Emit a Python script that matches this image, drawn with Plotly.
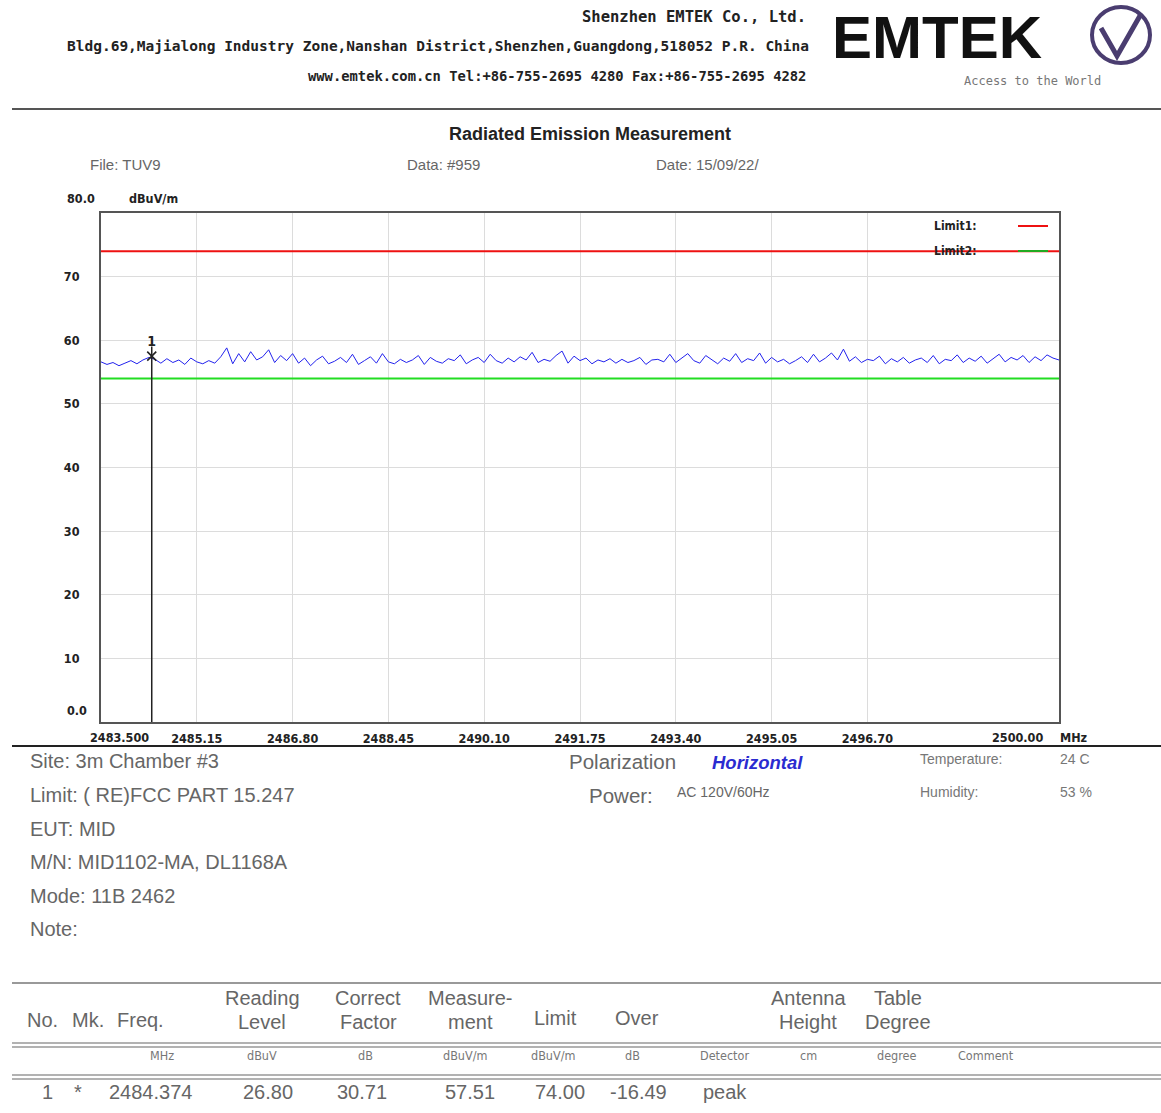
import plotly.graph_objects as go

# ---------------- data ----------------
f_start, f_stop = 2483.5, 2500.0
level = [
    56.6, 56.2, 56.5, 56.0, 56.4, 56.8, 56.3, 56.9, 57.3, 57.0, 56.4, 57.1, 56.5, 56.9, 56.2, 57.2, 56.6, 56.3, 56.8, 56.4,
    57.4, 58.8, 56.3, 57.9, 56.6, 58.2, 56.9, 57.4, 58.5, 56.5, 57.6, 56.8, 57.9, 56.4, 57.2, 56.0, 56.9, 57.5, 56.3, 56.7,
    57.3, 56.5, 57.8, 56.2, 56.8, 57.4, 56.4, 57.9, 56.6, 56.3, 57.0, 56.5, 56.9, 57.6, 56.2, 57.3, 56.7, 56.4, 57.1, 56.8,
    57.7, 56.3, 56.9, 57.3, 56.5, 57.8, 56.8, 56.4, 57.2, 56.6, 57.4, 56.9, 58.1, 56.5, 57.0, 56.7, 57.6, 58.3, 56.4, 57.5,
    56.8, 57.2, 56.3, 56.9, 56.6, 57.1, 56.4, 57.0, 56.5, 56.8, 57.3, 56.2, 56.9, 57.0, 56.6, 57.8, 56.5, 57.2, 57.9, 56.8,
    56.4, 57.6, 56.9, 56.3, 57.2, 56.7, 57.9, 56.5, 57.1, 56.8, 58.0, 56.4, 57.3, 56.6, 57.0, 56.3, 56.8, 57.4, 56.5, 57.8,
    56.6, 57.2, 58.0, 56.9, 58.6, 56.7, 57.4, 56.5, 57.0, 56.8, 57.5, 56.3, 57.1, 56.6, 57.3, 56.4, 56.9, 57.2, 56.5, 57.6,
    56.3, 57.0, 56.8, 57.7, 56.5, 57.2, 56.7, 57.5, 56.4, 57.1, 57.8, 56.6, 57.3, 56.9, 57.6, 56.5, 57.4, 56.8, 57.7, 57.2, 56.9,
]
limit1 = 74.0
limit2 = 54.0
marker_freq = 2484.374
marker_level = 57.51
x_tickvals = [2485.15, 2486.80, 2488.45, 2490.10, 2491.75, 2493.40, 2495.05, 2496.70]
x_ticktext = ["2485.15", "2486.80", "2488.45", "2490.10", "2491.75", "2493.40", "2495.05", "2496.70"]
y_tickvals = [10, 20, 30, 40, 50, 60, 70]
y_ticktext = ["10", "20", "30", "40", "50", "60", "70"]

n = len(level)
freqs = [f_start + i * (f_stop - f_start) / (n - 1) for i in range(n)]

# ---------------- geometry ----------------
W, H = 1161, 1113
L, R, T, B = 101, 1059, 213, 722


def px(x):
    return (x - L) / (R - L)


def py(y):
    return (B - y) / (B - T)


NARROW = "Liberation Sans Narrow, Arial Narrow, DejaVu Sans Condensed, sans-serif"
SANS = "Liberation Sans, Arial, sans-serif"
MONO = "DejaVu Sans Mono, Liberation Mono, monospace"

fig = go.Figure()
fig.add_trace(go.Scatter(x=freqs, y=level, mode="lines", line=dict(color="#2222ee", width=1), hoverinfo="skip"))
fig.add_trace(go.Scatter(x=[f_start, f_stop], y=[limit1, limit1], mode="lines", line=dict(color="#ee1111", width=2)))
fig.add_trace(go.Scatter(x=[f_start, f_stop], y=[limit2, limit2], mode="lines", line=dict(color="#22dd22", width=2)))
fig.add_trace(go.Scatter(x=[marker_freq, marker_freq], y=[0, marker_level + 1.5], mode="lines",
                         line=dict(color="#222222", width=1.5)))
fig.add_trace(go.Scatter(x=[marker_freq], y=[marker_level], mode="markers+text", text=["<b>1</b>"],
                         textposition="top center",
                         textfont=dict(family=NARROW, size=14, color="#222"),
                         marker=dict(symbol="x-thin", size=9, line=dict(color="#222", width=1.6))))

ann = []


def t(x, y, s, size=15, color="#555", family=SANS, xa="left", bold=False, italic=False):
    if bold:
        s = "<b>" + s + "</b>"
    if italic:
        s = "<i>" + s + "</i>"
    ann.append(dict(x=px(x), y=py(y), xref="paper", yref="paper", text=s, showarrow=False,
                    xanchor=xa, yanchor="middle", font=dict(size=size, color=color, family=family)))


# header
t(808, 17, "Shenzhen EMTEK Co., Ltd.", 15.5, "#222", MONO, "right", True)
t(65, 46, "Bldg.69,Majialong Industry Zone,Nanshan District,Shenzhen,Guangdong,518052 P.R. China", 14.5, "#222", MONO, "left", True)
t(808, 76, "www.emtek.com.cn Tel:+86-755-2695 4280 Fax:+86-755-2695 4282", 13.8, "#222", MONO, "right", True)
t(830, 37, "EMTEK", 60, "#111", SANS, "left", True)
t(1032, 81, "Access to the World", 12, "#777", MONO, "center")

t(590, 134, "Radiated Emission Measurement", 18, "#222", SANS, "center", True)
t(88, 164, "File: TUV9", 15, "#666")
t(405, 164, "Data: #959", 15, "#666")
t(654, 164, "Date: 15/09/22/", 15, "#666")
t(65, 199, "80.0", 12.5, "#222", NARROW, "left", True)
t(127, 199, "dBuV/m", 12.5, "#222", NARROW, "left", True)
t(65, 710, "0.0", 12.5, "#222", NARROW, "left", True)
t(1058, 737, "MHz", 12.5, "#222", NARROW, "left", True)

# edge x tick labels
ann.append(dict(x=f_start, y=py(737), xref="x", yref="paper", text="<b>2483.500</b>", showarrow=False,
                xanchor="left", yanchor="middle", xshift=-13,
                font=dict(size=12.5, color="#222", family=NARROW)))
ann.append(dict(x=f_stop, y=py(737), xref="x", yref="paper", text="<b>2500.00</b>", showarrow=False,
                xanchor="right", yanchor="middle", xshift=-14,
                font=dict(size=12.5, color="#222", family=NARROW)))

# legend
t(932, 226, "Limit1:", 12, "#222", NARROW, "left", True)
t(932, 251, "Limit2:", 12, "#222", NARROW, "left", True)

# info block
IS = 20
t(28, 761, "Site: 3m Chamber #3", IS, "#666")
t(28, 795, "Limit: ( RE)FCC PART 15.247", IS, "#666")
t(28, 829, "EUT: MID", IS, "#666")
t(28, 862, "M/N: MID1102-MA, DL1168A", IS, "#666")
t(28, 896, "Mode: 11B 2462", IS, "#666")
t(28, 929, "Note:", IS, "#666")
t(567, 761, "Polarization", 20.5, "#666")
t(710, 762, "Horizontal", 18.5, "#2b2bd0", SANS, "left", True, True)
t(587, 795, "Power:", 20.5, "#666")
t(675, 792, "AC 120V/60Hz", 14, "#666")
t(918, 759, "Temperature:", 14, "#777")
t(1058, 759, "24 C", 14, "#777")
t(918, 792, "Humidity:", 14, "#777")
t(1058, 792, "53 %", 14, "#777")

# table header
HC = "#666"
HS = 20
t(42, 1020, "No.", HS, HC, SANS, "center")
t(88, 1020, "Mk.", HS, HC, SANS, "center")
t(140, 1020, "Freq.", HS, HC, SANS, "center")
t(262, 998, "Reading", HS, HC, SANS, "center")
t(262, 1022, "Level", HS, HC, SANS, "center")
t(368, 998, "Correct", HS, HC, SANS, "center")
t(368, 1022, "Factor", HS, HC, SANS, "center")
t(470, 998, "Measure-", HS, HC, SANS, "center")
t(470, 1022, "ment", HS, HC, SANS, "center")
t(555, 1018, "Limit", HS, HC, SANS, "center")
t(637, 1018, "Over", HS, HC, SANS, "center")
t(808, 998, "Antenna", HS, HC, SANS, "center")
t(808, 1022, "Height", HS, HC, SANS, "center")
t(898, 998, "Table", HS, HC, SANS, "center")
t(898, 1022, "Degree", HS, HC, SANS, "center")

units = [(162, "MHz"), (262, "dBuV"), (365, "dB"), (465, "dBuV/m"), (553, "dBuV/m"), (632, "dB"),
         (724, "Detector"), (808, "cm"), (896, "degree"), (986, "Comment")]
for ux, us in units:
    t(ux, 1055, us, 12.5, "#777", NARROW, "center")

row = [(47, "1"), (78, "*"), (150, "2484.374"), (268, "26.80"), (362, "30.71"), (470, "57.51"),
       (560, "74.00"), (638, "-16.49"), (725, "peak")]
for rx, rs in row:
    t(rx, 1092, rs, 20, "#666", SANS, "center")

shapes = []


def hline(y, x0, x1, color, w):
    shapes.append(dict(type="line", xref="paper", yref="paper", x0=px(x0), x1=px(x1), y0=py(y), y1=py(y),
                       line=dict(color=color, width=w), layer="above"))


hline(109, 12, 1161, "#555", 2)
hline(746, 12, 1161, "#222", 2)
hline(983, 12, 1161, "#999", 2)
hline(1043, 12, 1161, "#999", 1.5)
hline(1047, 12, 1161, "#999", 1.5)
hline(1075, 12, 1161, "#999", 1.5)
hline(1079, 12, 1161, "#999", 1.5)
# legend samples
hline(226, 1018, 1048, "#ee1111", 2)
hline(251, 1018, 1048, "#22aa22", 2)
# logo circle + check
shapes.append(dict(type="circle", xref="paper", yref="paper", x0=px(1092), x1=px(1150), y0=py(63), y1=py(7),
                   line=dict(color="#4a3d70", width=4)))
shapes.append(dict(type="path", xref="paper", yref="paper",
                   path="M {} {} L {} {} L {} {}".format(px(1101), py(28), px(1117), py(56), px(1141), py(14)),
                   line=dict(color="#4a3d70", width=5)))

fig.update_layout(
    width=W, height=H,
    margin=dict(l=L, r=W - R, t=T, b=H - B, pad=0),
    paper_bgcolor="white", plot_bgcolor="white",
    showlegend=False,
    annotations=ann, shapes=shapes,
    xaxis=dict(range=[f_start, f_stop], tickvals=x_tickvals, ticktext=["<b>" + s + "</b>" for s in x_ticktext],
               showgrid=True, gridcolor="#dcdcdc", gridwidth=1, zeroline=False,
               showline=True, linecolor="#555", linewidth=2, mirror=True, ticks="",
               tickfont=dict(family=NARROW, size=12.5, color="#222"), ticklabelstandoff=4),
    yaxis=dict(range=[0, 80], tickvals=y_tickvals, ticktext=["<b>" + s + "</b>" for s in y_ticktext],
               showgrid=True, gridcolor="#dcdcdc", gridwidth=1, zeroline=False,
               showline=True, linecolor="#555", linewidth=2, mirror=True, ticks="",
               tickfont=dict(family=NARROW, size=12.5, color="#222"), ticklabelstandoff=17),
)

fig.write_html("out.html", config={"displayModeBar": False},
               post_script="document.body.style.margin='0';document.body.style.overflow='hidden';")
